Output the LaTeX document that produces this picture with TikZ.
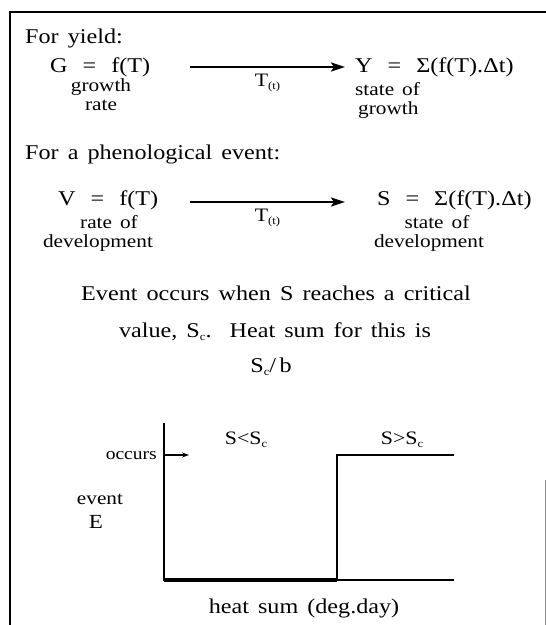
\documentclass[tikz,border=0pt]{standalone}
\usepackage{fontspec}
\setmainfont[WordSpace=1.5,FakeStretch=1.15]{Liberation Serif}
\usetikzlibrary{arrows.meta,positioning}
\newcommand{\lowidx}[1]{\raisebox{-0.35ex}{\fontsize{11}{11}\selectfont #1}}
\newcommand{\igual}{\hspace{15pt}=\hspace{15pt}}
\tikzset{
  texto/.style={inner sep=0pt, font=\fontsize{21}{24}\selectfont, anchor=base west},
  textoc/.style={inner sep=0pt, font=\fontsize{21}{24}\selectfont, anchor=base},
  rotulo/.style={inner sep=0pt, font=\fontsize{18.5}{20}\selectfont, anchor=base},
  rotuloe/.style={inner sep=0pt, font=\fontsize{18.5}{20}\selectfont, anchor=base west},
  seta/.style={-{Stealth[length=14pt,width=9pt,inset=3pt]}, line width=2.4pt},
  setinha/.style={-{Stealth[length=7pt,width=5pt]}, line width=1.4pt},
  eixo/.style={line width=2pt},
}
\begin{document}
\begin{tikzpicture}[x=1pt,y=-1pt]
  \useasboundingbox (0,0) rectangle (546,625);
  % moldura
  \draw[line width=1.8pt] (10,625) -- (10,12) -- (546,12);
  \draw[line width=0.8pt, black!45] (545,480) -- (545,625);

  % crescimento
  \node[texto] (yield) at (25,43.5) {For yield:};
  \node[texto] (geq) at (50,72) {G\igual f(T)};
  \node[rotulo] (grw) at (101,91) {growth};
  \node[rotulo] (rte) at (101,110) {rate};
  \node[texto] (yeq) at (355,72) {Y\igual Σ(f(T).Δt)};
  \node[rotuloe] (st1) at (355,95) {state of};
  \node[rotuloe] (gr2) at (358,114) {growth};
  \coordinate (a1s) at (190,67);
  \coordinate (a1e) at (345,67);
  \draw[seta] (a1s) -- (a1e)
    node[midway, below=6pt, inner sep=0pt, font=\fontsize{19}{20}\selectfont] (t1) {T\lowidx{(t)}};

  % evento fenologico
  \node[texto] (pheno) at (25,159) {For a phenological event:};
  \node[texto] (veq) at (58,205) {V\igual f(T)};
  \node[rotulo] (rof) at (109,228) {rate of};
  \node[rotulo] (dv1) at (98,247) {development};
  \node[texto] (seq) at (377,205) {S\igual Σ(f(T).Δt)};
  \node[rotulo] (st2) at (437,228) {state of};
  \node[rotulo] (dv2) at (429,247) {development};
  \coordinate (a2s) at (190,202);
  \coordinate (a2e) at (345,202);
  \draw[seta] (a2s) -- (a2e)
    node[midway, below=6pt, inner sep=0pt, font=\fontsize{19}{20}\selectfont] (t2) {T\lowidx{(t)}};

  % texto central
  \node[textoc] (ev1) at (276,300) {Event occurs when S reaches a critical};
  \node[textoc] (ev2) at (275,337) {value, S\lowidx{c}.\ \ Heat sum for this is};
  \node[textoc] (ev3) at (271,372) {S\lowidx{c}/\,b};

  % grafico
  \coordinate (O) at (164,580);
  \coordinate (Ytop) at (164,423);
  \coordinate (Xend) at (454,580);
  \coordinate (Sc) at (337,580);
  \coordinate (ScTop) at (337,455);
  \coordinate (Hend) at (454,455);
  \draw[eixo] (Ytop) -- (O) -- (Xend);
  \draw[line width=4pt] (O) -- (Sc);
  \draw[line width=2.6pt] (Sc) -- (ScTop) -- (Hend);
  \coordinate (occ) at (164,455);
  \coordinate (occe) at (189,455);
  \draw[setinha] (occ) -- (occe);
  \node[inner sep=0pt, font=\fontsize{17}{18}\selectfont, anchor=base east] (occurs) at (157,459) {occurs};
  \node[inner sep=0pt, font=\fontsize{19}{20}\selectfont, anchor=base] (lt) at (246,444) {S<S\lowidx{c}};
  \node[inner sep=0pt, font=\fontsize{19}{20}\selectfont, anchor=base] (gt) at (402,444) {S>S\lowidx{c}};
  \node[rotulo] (evt) at (100,504) {event};
  \node[rotulo, font=\fontsize{20}{20}\selectfont] (E) at (96,528) {E};
  \node[textoc] (hs) at (304,613) {heat sum (deg.day)};
\end{tikzpicture}
\end{document}
